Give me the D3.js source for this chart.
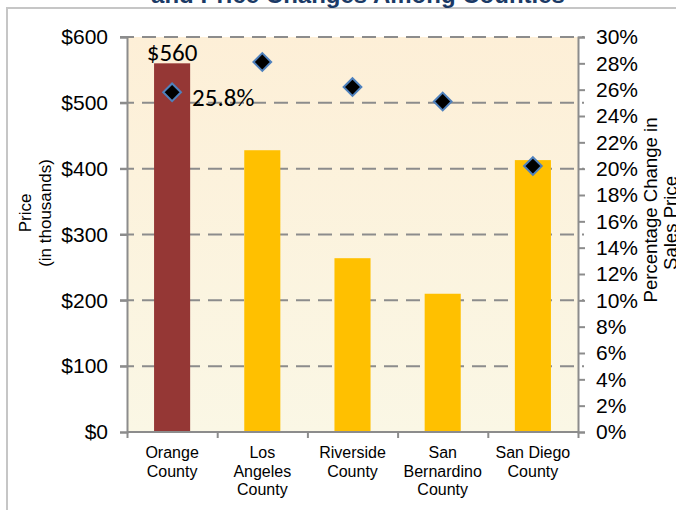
<!DOCTYPE html>
<html>
<head>
<meta charset="utf-8">
<script src="https://cdn.jsdelivr.net/npm/d3@7"></script>
<style>
  html, body { margin: 0; padding: 0; background: #ffffff; }
  svg { display: block; }
</style>
</head>
<body>
<svg id="chart" width="676" height="510"></svg>
<script>
// County median prices (thousands of dollars) and year-over-year % change
const counties = ["Orange County", "Los Angeles County", "Riverside County", "San Bernardino County", "San Diego County"];
const countyLines = [["Orange", "County"], ["Los", "Angeles", "County"], ["Riverside", "County"], ["San", "Bernardino", "County"], ["San Diego", "County"]];
const prices = [560, 428, 264, 210, 413];
const pctChange = [25.8, 28.1, 26.2, 25.1, 20.2];
const priceTicks = [0, 100, 200, 300, 400, 500, 600];
const pctTicks = [0, 2, 4, 6, 8, 10, 12, 14, 16, 18, 20, 22, 24, 26, 28, 30];
const highlighted = "Orange County";

const svg = d3.select("#chart");
const plotL = 127, plotR = 578, plotT = 37, plotB = 432;

const x = d3.scaleBand().domain(counties).range([plotL, plotR]).paddingInner(0.6).paddingOuter(0.3);
const yPrice = d3.scaleLinear().domain([0, 600]).range([plotB, plotT]);
const yPct = d3.scaleLinear().domain([0, 30]).range([plotB, plotT]);

// chart frame
svg.append("path")
  .attr("d", `M7,510 L7,8 L676,8`)
  .attr("fill", "none").attr("stroke", "#c6c6c6").attr("stroke-width", 2);

// title (second line)
svg.append("text")
  .attr("x", 358).attr("y", 3)
  .attr("text-anchor", "middle")
  .attr("font-family", "Liberation Sans, Arial, sans-serif")
  .attr("font-weight", "bold").attr("font-size", 24)
  .attr("fill", "#1b3a66")
  .text("and Price Changes Among Counties");

// plot background gradient
const defs = svg.append("defs");
const grad = defs.append("linearGradient").attr("id", "bg").attr("x1", 0).attr("y1", 0).attr("x2", 0).attr("y2", 1);
grad.append("stop").attr("offset", "0%").attr("stop-color", "#fdefd7");
grad.append("stop").attr("offset", "100%").attr("stop-color", "#faf7e5");
svg.append("rect")
  .attr("x", plotL).attr("y", plotT)
  .attr("width", plotR - plotL).attr("height", plotB - plotT)
  .attr("fill", "url(#bg)");

// dashed gridlines
svg.append("g").selectAll("line").data(priceTicks.filter(d => d > 0)).join("line")
  .attr("x1", plotL - 7).attr("x2", plotR + 6)
  .attr("y1", d => yPrice(d)).attr("y2", d => yPrice(d))
  .attr("stroke", "#8c8c8c").attr("stroke-width", 2)
  .attr("stroke-dasharray", "14,8");

// bars
svg.append("g").selectAll("rect").data(counties).join("rect")
  .attr("x", d => x(d))
  .attr("width", x.bandwidth())
  .attr("y", (d, i) => yPrice(prices[i]))
  .attr("height", (d, i) => yPrice(0) - yPrice(prices[i]))
  .attr("fill", d => d === highlighted ? "#953735" : "#ffc000");

// axes
const axisFont = "Liberation Sans, Arial, sans-serif";
const yLeft = svg.append("g").attr("transform", `translate(${plotL},0)`)
  .call(d3.axisLeft(yPrice).tickValues(priceTicks).tickFormat(d => "$" + d).tickSize(7).tickPadding(12));
const yRight = svg.append("g").attr("transform", `translate(${plotR},0)`)
  .call(d3.axisRight(yPct).tickValues(pctTicks).tickFormat(d => d + "%").tickSize(7).tickPadding(11));
const xBottom = svg.append("g").attr("transform", `translate(0,${plotB})`)
  .call(d3.axisBottom(d3.scaleLinear().domain([0, 5]).range([plotL, plotR])).tickValues([0, 1, 2, 3, 4, 5]).tickFormat("").tickSize(6));

[yLeft, yRight, xBottom].forEach(g => {
  g.select(".domain").attr("stroke", "#8c8c8c").attr("stroke-width", 2);
  g.selectAll(".tick line").attr("stroke", "#8c8c8c").attr("stroke-width", 2);
  g.selectAll(".tick text").attr("font-family", axisFont).attr("font-size", 21).attr("fill", "#000");
});
xBottom.select(".domain").attr("d", `M${plotL},0H${plotR}`);

// category labels
const catG = svg.append("g");
counties.forEach((c, i) => {
  const t = catG.append("text")
    .attr("x", x(c) + x.bandwidth() / 2)
    .attr("y", 458)
    .attr("text-anchor", "middle")
    .attr("font-family", axisFont).attr("font-size", 16).attr("fill", "#000");
  countyLines[i].forEach((ln, j) => {
    t.append("tspan").attr("x", x(c) + x.bandwidth() / 2).attr("dy", j === 0 ? 0 : 18.5).text(ln);
  });
});

// axis titles
const leftTitle = svg.append("text")
  .attr("transform", "translate(31,213) rotate(-90)")
  .attr("text-anchor", "middle")
  .attr("font-family", axisFont).attr("font-size", 17).attr("fill", "#000");
leftTitle.append("tspan").attr("x", 0).attr("dy", 0).text("Price");
leftTitle.append("tspan").attr("x", 0).attr("dy", 20).text("(in thousands)");

const rightTitle = svg.append("text")
  .attr("transform", "translate(657,0) rotate(-90)")
  .attr("text-anchor", "middle")
  .attr("font-family", axisFont).attr("font-size", 18.6).attr("fill", "#000");
rightTitle.append("tspan").attr("x", -210).attr("y", 0).text("Percentage Change in");
rightTitle.append("tspan").attr("x", -223).attr("y", 20).text("Sales Price");

// diamond markers for % change
const diamond = d3.symbol().type(d3.symbolDiamond2).size(200);
svg.append("g").selectAll("path").data(counties).join("path")
  .attr("d", diamond)
  .attr("transform", (d, i) => `translate(${x(d) + x.bandwidth() / 2},${yPct(pctChange[i])})`)
  .attr("fill", "#000")
  .attr("stroke", "#4f81bd").attr("stroke-width", 2);

// value labels for the highlighted county
const hi = counties.indexOf(highlighted);
const labelFont = "Carlito, Lato, 'Open Sans', sans-serif";
svg.append("text")
  .attr("x", x(highlighted) + x.bandwidth() / 2)
  .attr("y", yPrice(prices[hi]) - 2)
  .attr("text-anchor", "middle")
  .attr("font-family", labelFont).attr("font-size", 25).attr("fill", "#000")
  .text("$" + prices[hi]);
svg.append("text")
  .attr("x", x(highlighted) + x.bandwidth() / 2 + 20)
  .attr("y", yPct(pctChange[hi]) + 14)
  .attr("font-family", labelFont).attr("font-size", 25).attr("fill", "#000")
  .text(pctChange[hi].toFixed(1) + "%");
</script>
</body>
</html>
